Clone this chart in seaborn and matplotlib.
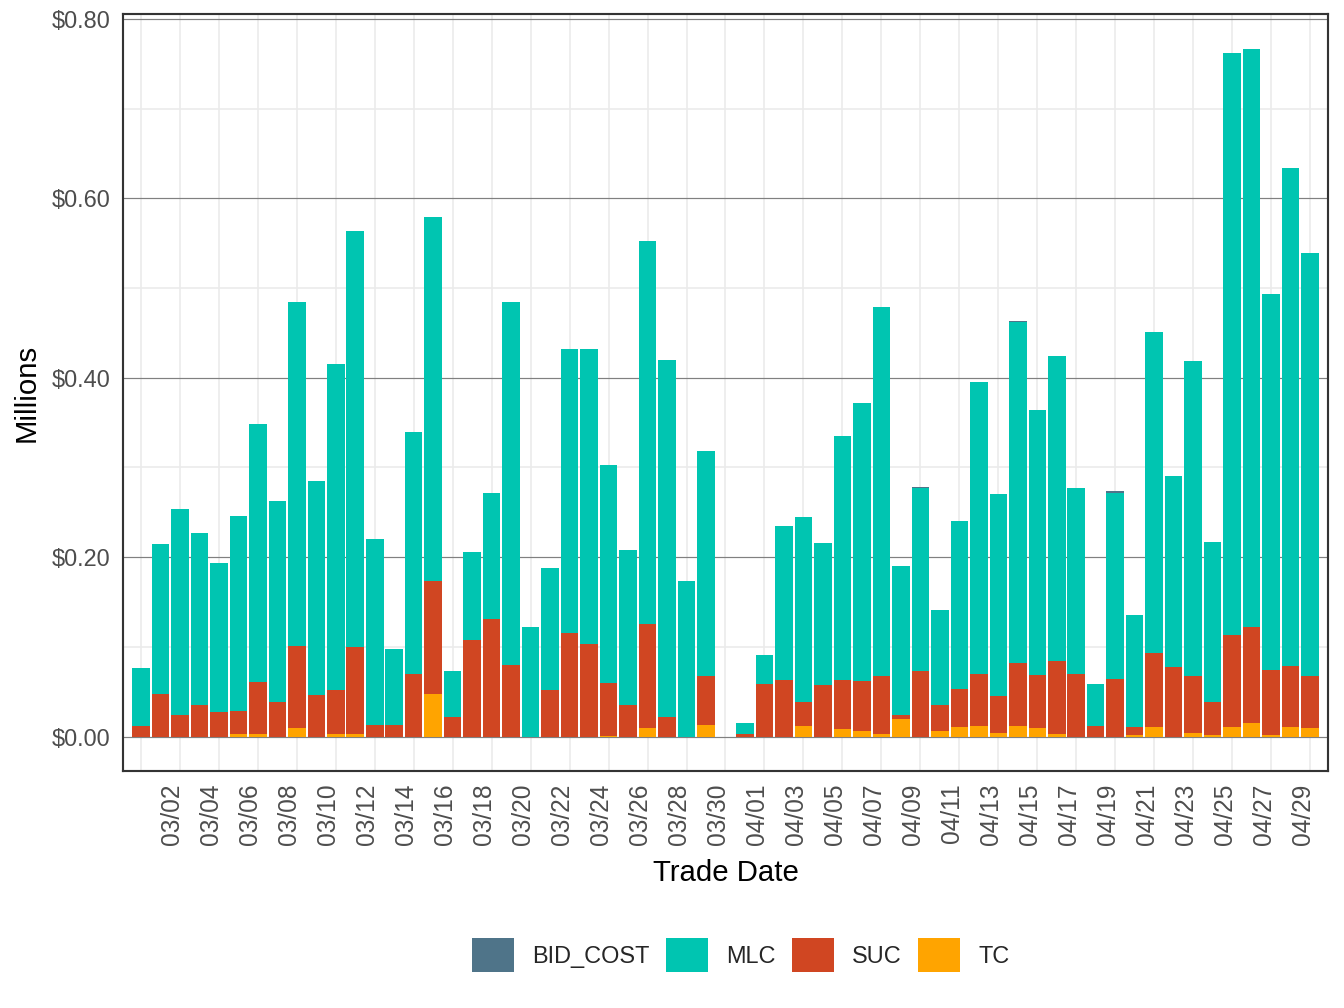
import pandas as pd
import matplotlib.pyplot as plt
import matplotlib.ticker as mticker
import seaborn as sns

# === DATA (millions of $, one value per trade date) ===
DATES = list(pd.date_range("2024-03-01", "2024-04-30").strftime("%m/%d"))

TC = [0, 0, 0, 0, 0, 0.003, 0.003, 0, 0.010, 0, 0.003, 0.003, 0, 0, 0, 0.048,
      0, 0, 0, 0, 0, 0, 0, 0, 0.001, 0, 0.009, 0, 0, 0.013, 0,
      0, 0, 0, 0.012, 0, 0.008, 0.006, 0.003, 0.020, 0, 0.006, 0.011, 0.012, 0.004, 0.012,
      0.009, 0.003, 0, 0, 0, 0.002, 0.011, 0, 0.004, 0.002, 0.011, 0.015, 0.002, 0.011, 0.009]

SUC = [0.012, 0.048, 0.024, 0.035, 0.027, 0.026, 0.058, 0.038, 0.091, 0.046, 0.049,
       0.097, 0.013, 0.013, 0.070, 0.125, 0.022, 0.108, 0.131, 0.080, 0, 0.052,
       0.115, 0.103, 0.059, 0.035, 0.116, 0.022, 0, 0.055, 0,
       0.003, 0.059, 0.063, 0.026, 0.058, 0.055, 0.056, 0.065, 0.004, 0.073, 0.029,
       0.042, 0.058, 0.041, 0.070, 0.060, 0.081, 0.070, 0.012, 0.064, 0.009, 0.082,
       0.078, 0.064, 0.036, 0.102, 0.107, 0.072, 0.068, 0.059]

MLC = [0.065, 0.167, 0.230, 0.192, 0.166, 0.217, 0.288, 0.225, 0.384, 0.239, 0.363,
       0.464, 0.207, 0.085, 0.270, 0.406, 0.051, 0.098, 0.141, 0.405, 0.122, 0.136,
       0.317, 0.329, 0.243, 0.173, 0.428, 0.398, 0.173, 0.250, 0,
       0.012, 0.032, 0.172, 0.207, 0.158, 0.272, 0.310, 0.411, 0.166, 0.204, 0.106,
       0.187, 0.325, 0.225, 0.380, 0.295, 0.340, 0.207, 0.047, 0.208, 0.125, 0.358,
       0.212, 0.351, 0.179, 0.649, 0.645, 0.419, 0.555, 0.471]

BID_COST = [0] * 31 + [0, 0, 0, 0, 0, 0, 0, 0, 0, 0.0015, 0, 0, 0, 0, 0.0015,
                       0, 0, 0, 0, 0.0015, 0, 0, 0, 0, 0, 0, 0, 0, 0, 0]

COMPONENTS = ["BID_COST", "MLC", "SUC", "TC"]
COLORS = {"BID_COST": "#4F7489", "MLC": "#00C5B1", "SUC": "#D04622", "TC": "#FFA400"}

# === LONG TABLE ===
series = {"BID_COST": BID_COST, "MLC": MLC, "SUC": SUC, "TC": TC}
rows = []
for name, vals in series.items():
    for i, v in enumerate(vals):
        rows.append({"day": i, "date": DATES[i], "component": name, "value": v})
df = pd.DataFrame(rows)

# === STYLE ===
sns.set_style("white")
plt.rcParams["font.family"] = ["Liberation Sans", "DejaVu Sans"]

fig = plt.figure(figsize=(7, 5.25), dpi=192)
ax = fig.add_axes([0.0915, 0.2351, 0.8966, 0.751])

sns.histplot(data=df, x="day", weights="value", hue="component",
             hue_order=COMPONENTS, palette=COLORS, multiple="stack",
             discrete=True, shrink=0.9, alpha=1, edgecolor="none",
             linewidth=0, ax=ax)

# axes limits
ax.set_xlim(-0.92, 60.92)
ax.set_ylim(-0.0384, 0.8055)

# ticks
ax.set_xticks(range(1, 61, 2))
ax.set_xticklabels(DATES[1::2], rotation=90, ha="left")
ax.xaxis.set_minor_locator(mticker.FixedLocator(range(0, 61, 2)))
ax.set_yticks([0, 0.2, 0.4, 0.6, 0.8])
ax.yaxis.set_minor_locator(mticker.FixedLocator([0.1, 0.3, 0.5, 0.7]))
ax.yaxis.set_major_formatter(mticker.FuncFormatter(lambda v, _: "\\$%.2f" % v))
ax.tick_params(which="major", length=2.75, width=0.5, color="#333333",
               labelsize=8.8, labelcolor="#4D4D4D", pad=2)
ax.tick_params(axis="x", which="major", labelsize=9.2)
ax.tick_params(which="minor", length=0)

# grid
ax.set_axisbelow(True)
ax.grid(False)
ax.grid(which="minor", color="#EBEBEB", linewidth=0.6)
ax.grid(which="major", axis="y", color="#808080", linewidth=0.45)

for sp in ax.spines.values():
    sp.set_color("#333333")
    sp.set_linewidth(0.8)

ax.set_xlabel("Trade Date", fontsize=11, color="black", labelpad=5)
ax.set_ylabel("Millions", fontsize=11, color="black", labelpad=4)

# legend at the bottom
sns.move_legend(ax, "center", bbox_to_anchor=(0.551, 0.0526),
                bbox_transform=fig.transFigure, ncol=4, title=None,
                frameon=False, fontsize=8.8, handlelength=1.79,
                handleheight=1.79, handletextpad=0.77, columnspacing=0.7)

plt.savefig("out.png", dpi=192)
plt.close()
